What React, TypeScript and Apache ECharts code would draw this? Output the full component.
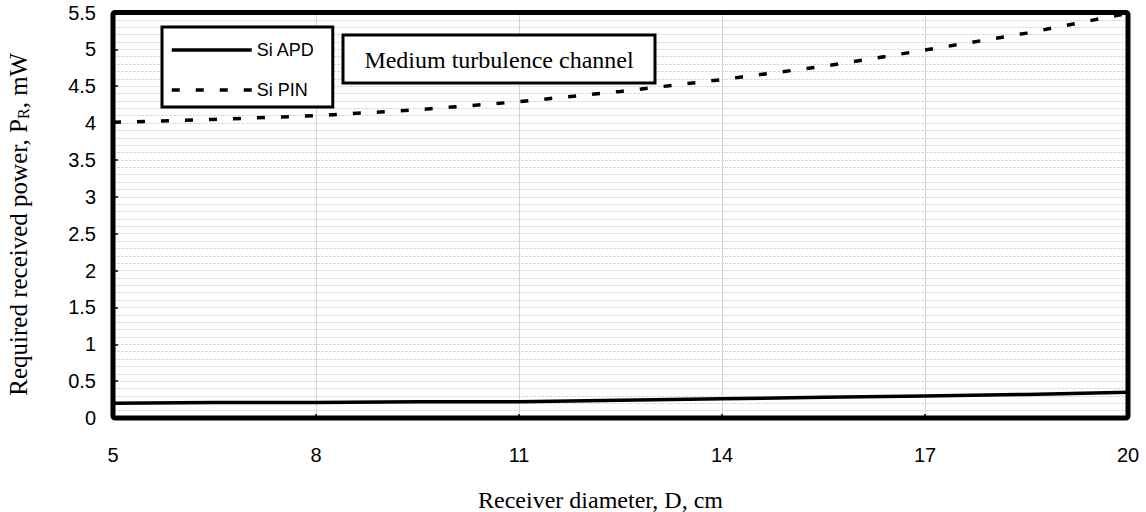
import React, { useEffect, useRef } from "react";
import * as echarts from "echarts";

// Receiver diameter D (cm) and the required received power P_R (mW)
const diameters = [5, 6.5, 8, 9.5, 11, 12.5, 14, 15.5, 17, 18.5, 20];
const siApd = [0.2, 0.21, 0.21, 0.22, 0.22, 0.24, 0.26, 0.28, 0.3, 0.32, 0.35];
const siPin = [4.01, 4.05, 4.1, 4.18, 4.29, 4.43, 4.59, 4.77, 4.99, 5.22, 5.49];
const xTicks = [5, 8, 11, 14, 17, 20];
const seriesNames = ["Si APD", "Si PIN"];
const panelTitle = "Medium turbulence channel";

const SANS = '"Liberation Sans", Arial, sans-serif';
const SERIF = '"Liberation Serif", "Times New Roman", serif';

export default function App() {
  const ref = useRef<HTMLDivElement>(null);

  useEffect(() => {
    document.body.style.margin = "0";
    const chart = echarts.init(ref.current!, null, { renderer: "svg" });
    const gridLine = { color: "#dadada", width: 1, type: [3, 1] as any };
    chart.setOption({
      animation: false,
      backgroundColor: "#fff",
      grid: {
        left: 113,
        right: 18,
        top: 12.5,
        bottom: 94,
        outerBoundsMode: "none",
        containLabel: false,
        show: true,
        borderWidth: 0,
        backgroundColor: "#fff",
      },
      legend: {
        orient: "vertical",
        left: 162,
        top: 27,
        itemWidth: 80,
        itemHeight: 14,
        itemGap: 22,
        padding: [14, 18, 8, 8],
        borderColor: "#000",
        borderWidth: 3,
        backgroundColor: "#fff",
        itemStyle: { opacity: 0 },
        lineStyle: { width: 3.5 },
        textStyle: { fontSize: 18, fontFamily: SANS, color: "#000" },
        data: seriesNames,
      },
      xAxis: {
        type: "value",
        min: 5,
        max: 20,
        axisLine: { show: false },
        axisTick: {
          show: true,
          inside: true,
          length: 4,
          customValues: xTicks,
          lineStyle: { color: "#000", width: 1.5 },
        },
        axisLabel: {
          customValues: xTicks,
          margin: 27,
          fontSize: 20,
          fontFamily: SANS,
          color: "#000",
        },
        splitLine: {
          show: true,
          showMinLine: false,
          showMaxLine: false,
          lineStyle: { color: "#d4d4d4", width: 1 },
        },
        name: "Receiver diameter, D, cm",
        nameLocation: "middle",
        nameGap: 70,
        nameTextStyle: {
          fontSize: 24,
          fontFamily: SERIF,
          color: "#000",
          padding: [0, 40, 0, 0],
        },
      },
      yAxis: {
        type: "value",
        min: 0,
        max: 5.5,
        interval: 0.5,
        axisLine: { show: false },
        axisTick: {
          show: true,
          inside: true,
          length: 5,
          lineStyle: { color: "#000", width: 1.5 },
        },
        axisLabel: {
          margin: 17,
          fontSize: 20,
          fontFamily: SANS,
          color: "#000",
        },
        splitLine: {
          show: true,
          showMinLine: false,
          showMaxLine: false,
          lineStyle: gridLine,
        },
        minorTick: { show: false, splitNumber: 5 },
        minorSplitLine: { show: true, lineStyle: gridLine },
        name: "Required received power, P{s|R}, mW",
        nameLocation: "middle",
        nameRotate: 90,
        nameGap: 82,
        nameTextStyle: {
          fontSize: 25,
          fontFamily: SERIF,
          color: "#000",
          padding: [0, 18, 0, 0],
          rich: {
            s: {
              fontSize: 16,
              fontFamily: SERIF,
              color: "#000",
              verticalAlign: "bottom",
              padding: [8, 0, 0, 0],
            },
          },
        },
      },
      series: [
        {
          name: seriesNames[0],
          type: "line",
          symbol: "none",
          itemStyle: { color: "#000" },
          lineStyle: { color: "#000", width: 3.5 },
          data: diameters.map((d, i) => [d, siApd[i]]),
        },
        {
          name: seriesNames[1],
          type: "line",
          symbol: "none",
          itemStyle: { color: "#000" },
          lineStyle: { color: "#000", width: 3.5, type: [8, 16] },
          data: diameters.map((d, i) => [d, siPin[i]]),
        },
      ],
    });

    // Heavy plot frame and the boxed panel title, drawn above the grid lines
    const rect = (chart as any)
      .getModel()
      .getComponent("grid")
      .coordinateSystem.getRect();
    chart.setOption({
      graphic: [
        {
          type: "rect",
          z: 20,
          silent: true,
          shape: { x: rect.x, y: rect.y, width: rect.width, height: rect.height, r: 2 },
          style: { fill: "none", stroke: "#000", lineWidth: 5 },
        },
        {
          type: "rect",
          z: 20,
          shape: { x: 343, y: 35, width: 312, height: 48 },
          style: { fill: "#fff", stroke: "#000", lineWidth: 3 },
        },
        {
          type: "text",
          z: 21,
          x: 499,
          y: 60,
          style: {
            text: panelTitle,
            font: `24px ${SERIF}`,
            fill: "#000",
            align: "center",
            verticalAlign: "middle",
          },
        },
      ],
    });
    return () => chart.dispose();
  }, []);

  return (
    <div
      ref={ref}
      style={{ position: "absolute", left: 0, top: 0, width: 1146, height: 512 }}
    />
  );
}
